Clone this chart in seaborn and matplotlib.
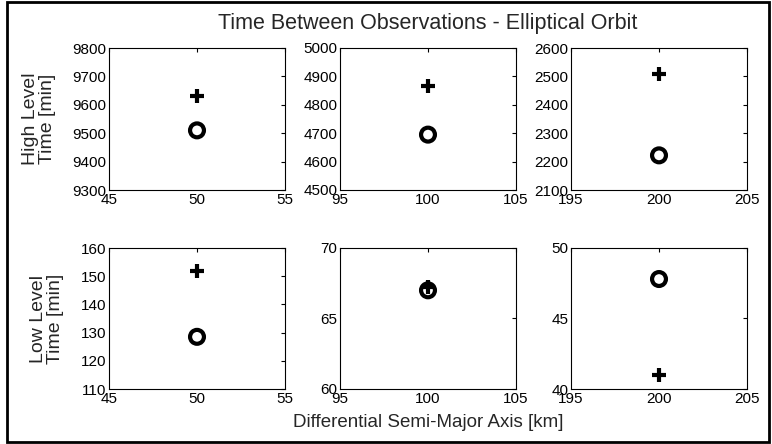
import matplotlib
matplotlib.use("Agg")
import matplotlib.pyplot as plt
import seaborn as sns
import pandas as pd
import numpy as np
from matplotlib.patches import Rectangle

sns.set_style("white")
plt.rcParams['font.family'] = ['Liberation Sans', 'DejaVu Sans']

# Data
axis_values = [50, 100, 200]                      # differential semi-major axis [km]
high_plus = [9632, 4865, 2507]                    # high level, '+' series [min]
high_circle = [9510, 4695, 2222]                  # high level, 'o' series [min]
low_plus = [152, 67.2, 41]                        # low level, '+' series [min]
low_circle = [128.5, 67.0, 47.8]                  # low level, 'o' series [min]

x_limits = [(45, 55), (95, 105), (195, 205)]
x_ticks = [[45, 50, 55], [95, 100, 105], [195, 200, 205]]
high_limits = [(9300, 9800), (4500, 5000), (2100, 2600)]
high_step = [100, 100, 100]
low_limits = [(110, 160), (60, 70), (40, 50)]
low_step = [10, 5, 5]
row_labels = ['High Level\nTime [min]', 'Low Level\nTime [min]']

W, H = 772, 444
fig = plt.figure(figsize=(W / 100, H / 100), dpi=100)

col_left = [109, 340, 571]
ax_w = 176
rows = [(48, 190), (248, 389)]  # top, bottom in pixels


def make_ax(left, top, bottom):
    return fig.add_axes([left / W, 1 - bottom / H, ax_w / W, (bottom - top) / H])


def style(ax, xl, xt, yl, step):
    ax.set_xlim(*xl)
    ax.set_xticks(xt)
    ax.set_ylim(*yl)
    ax.set_yticks(np.arange(yl[0], yl[1] + step / 2, step))
    ax.tick_params(direction='in', length=3, width=0.8, top=True, right=True,
                   labelsize=11, pad=2, colors='black')
    for s in ax.spines.values():
        s.set_color('black')
        s.set_linewidth(0.8)
    ax.set_xlabel('')
    ax.set_ylabel('')
    ax.set_facecolor('white')


for r, (top, bottom) in enumerate(rows):
    plus_vals = high_plus if r == 0 else low_plus
    circ_vals = high_circle if r == 0 else low_circle
    limits = high_limits if r == 0 else low_limits
    steps = high_step if r == 0 else low_step
    for c in range(3):
        ax = make_ax(col_left[c], top, bottom)
        df_plus = pd.DataFrame({'x': [axis_values[c]], 'y': [plus_vals[c]]})
        df_circ = pd.DataFrame({'x': [axis_values[c]], 'y': [circ_vals[c]]})
        sns.scatterplot(data=df_circ, x='x', y='y', ax=ax, marker='o', s=100,
                        facecolors='none', edgecolor='black', linewidth=3, zorder=3)
        sns.scatterplot(data=df_plus, x='x', y='y', ax=ax, marker='+', s=110,
                        color='black', linewidth=3, zorder=4)
        style(ax, x_limits[c], x_ticks[c], limits[c], steps[c])
        if c == 0:
            ax.set_ylabel(row_labels[r], fontsize=14, labelpad=12, linespacing=1.0)

fig.text(0.5 * (109 + 747) / W, 1 - 23 / H, 'Time Between Observations - Elliptical Orbit',
         ha='center', va='center', fontsize=15.5)
fig.text(0.5 * (109 + 747) / W, 1 - 422 / H, 'Differential Semi-Major Axis [km]',
         ha='center', va='center', fontsize=13.5)

fig.patches.append(Rectangle((7 / W, 2 / H), (769 - 7) / W, (442 - 2) / H,
                             transform=fig.transFigure, fill=False,
                             edgecolor='black', linewidth=2))

fig.savefig('out.png', dpi=100, facecolor='white')
